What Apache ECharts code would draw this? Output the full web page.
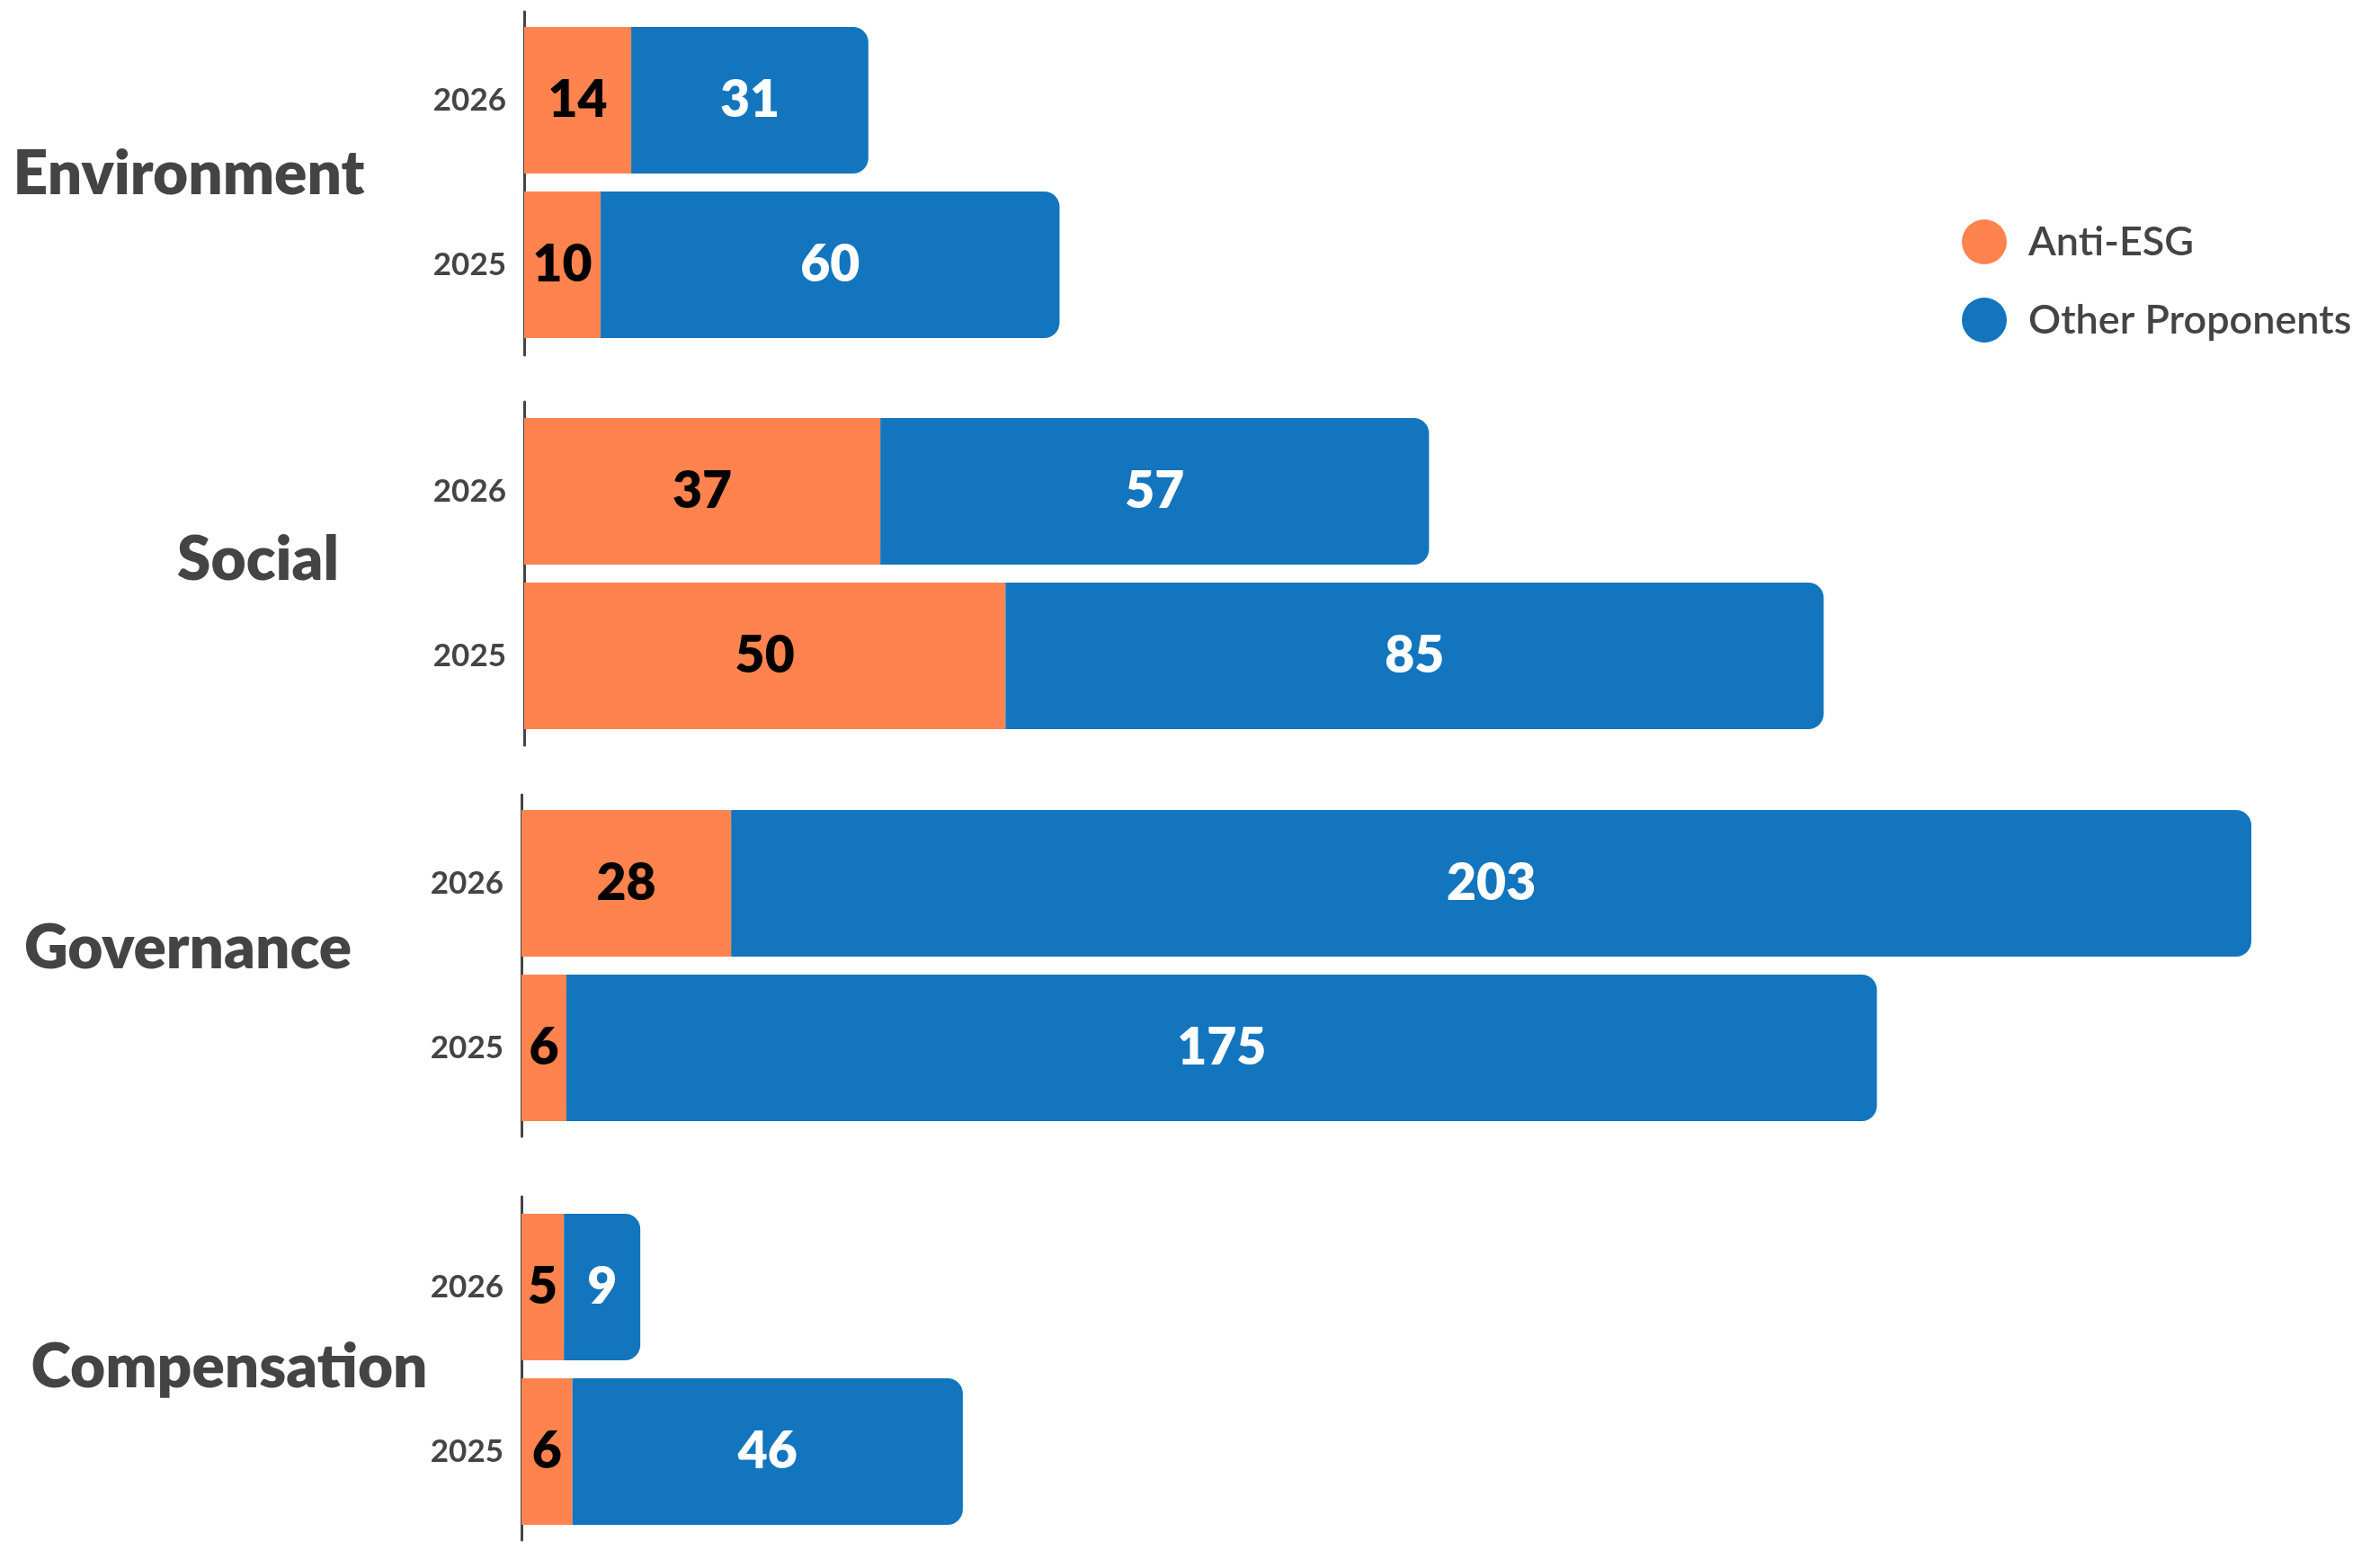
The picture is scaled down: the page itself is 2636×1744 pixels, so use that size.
<!DOCTYPE html>
<html><head><meta charset="utf-8">
<script src="https://cdn.jsdelivr.net/npm/echarts@6/dist/echarts.min.js"></script>
<style>html,body{margin:0;padding:0;background:#fff}#c{width:2636px;height:1744px}</style>
</head><body><div id="c"></div>
<script>
// ---- data ----
const categories = ['Environment', 'Social', 'Governance', 'Compensation'];
const years = ['2025', '2026'];
const seriesNames = ['Anti-ESG', 'Other Proponents'];
// values per category, ordered [2025, 2026]
const antiESG = [[10, 14], [50, 37], [6, 28], [6, 5]];
const otherProponents = [[60, 31], [85, 57], [175, 203], [46, 9]];

// ---- layout ----
const FONT = 'Lato, "Noto Sans", sans-serif';
// bar grids (tight around bars) and axis-line grids (slightly taller)
const grids = [
  { left: 583, top: 20, height: 366, width: 1276, max: 150, axisTop: 13, axisH: 382 },
  { left: 583, top: 455, height: 366, width: 1606, max: 150, axisTop: 447, axisH: 382 },
  { left: 580, top: 891, height: 366, width: 1999, max: 240, axisTop: 884, axisH: 380 },
  { left: 580, top: 1340, height: 366, width: 944, max: 100, axisTop: 1331, axisH: 382 }
];
const groupLabelPos = [[210, 194], [287, 623], [209, 1055], [255, 1521]];
const ORANGE = '#FF834E', BLUE = '#1375BE';

const chart = echarts.init(document.getElementById('c'));
const n = categories.length;
const option = {
  animation: false,
  backgroundColor: '#fff',
  legend: {
    orient: 'vertical', left: 2177, top: 239,
    data: seriesNames, icon: 'circle', itemWidth: 50, itemHeight: 50, itemGap: 37,
    textStyle: { fontFamily: FONT, fontSize: 45, fontWeight: 600, color: '#444', padding: [0, 0, 0, 19] }
  },
  grid: grids.map(g => ({ left: g.left, top: g.top, height: g.height, width: g.width }))
    .concat(grids.map(g => ({ left: g.left, top: g.axisTop, height: g.axisH, width: 10 }))),
  xAxis: grids.map((g, i) => ({ type: 'value', gridIndex: i, min: 0, max: g.max, show: false }))
    .concat(grids.map((g, i) => ({ type: 'value', gridIndex: n + i, show: false }))),
  yAxis: grids.map((g, i) => ({
    type: 'category', gridIndex: i, data: years,
    axisLine: { show: false },
    axisTick: { show: false },
    axisLabel: { margin: 20, fontFamily: FONT, fontSize: 35, fontWeight: 'bold', color: '#444' }
  })).concat(grids.map((g, i) => ({
    type: 'category', gridIndex: n + i, data: years,
    axisLine: { show: true, lineStyle: { color: '#444', width: 3 } },
    axisTick: { show: false }, axisLabel: { show: false }
  }))),
  graphic: categories.map((c, i) => ({
    type: 'text', x: groupLabelPos[i][0], y: groupLabelPos[i][1],
    style: { text: c, fontFamily: FONT, fontSize: 67.5, fontWeight: 800, fill: '#444',
      textAlign: 'center', textVerticalAlign: 'middle' }
  })),
  series: []
};
categories.forEach((c, i) => {
  option.series.push({
    name: seriesNames[0], type: 'bar', xAxisIndex: i, yAxisIndex: i, stack: 's' + i,
    data: antiESG[i], barWidth: 163,
    itemStyle: { color: ORANGE },
    label: { show: true, position: 'inside', color: '#000', fontFamily: FONT, fontSize: 57, fontWeight: 800 }
  });
  option.series.push({
    name: seriesNames[1], type: 'bar', xAxisIndex: i, yAxisIndex: i, stack: 's' + i,
    data: otherProponents[i], barWidth: 163,
    itemStyle: { color: BLUE, borderRadius: [0, 17, 17, 0] },
    label: { show: true, position: 'inside', color: '#fff', fontFamily: FONT, fontSize: 57, fontWeight: 800 }
  });
});
chart.setOption(option);
</script></body></html>
